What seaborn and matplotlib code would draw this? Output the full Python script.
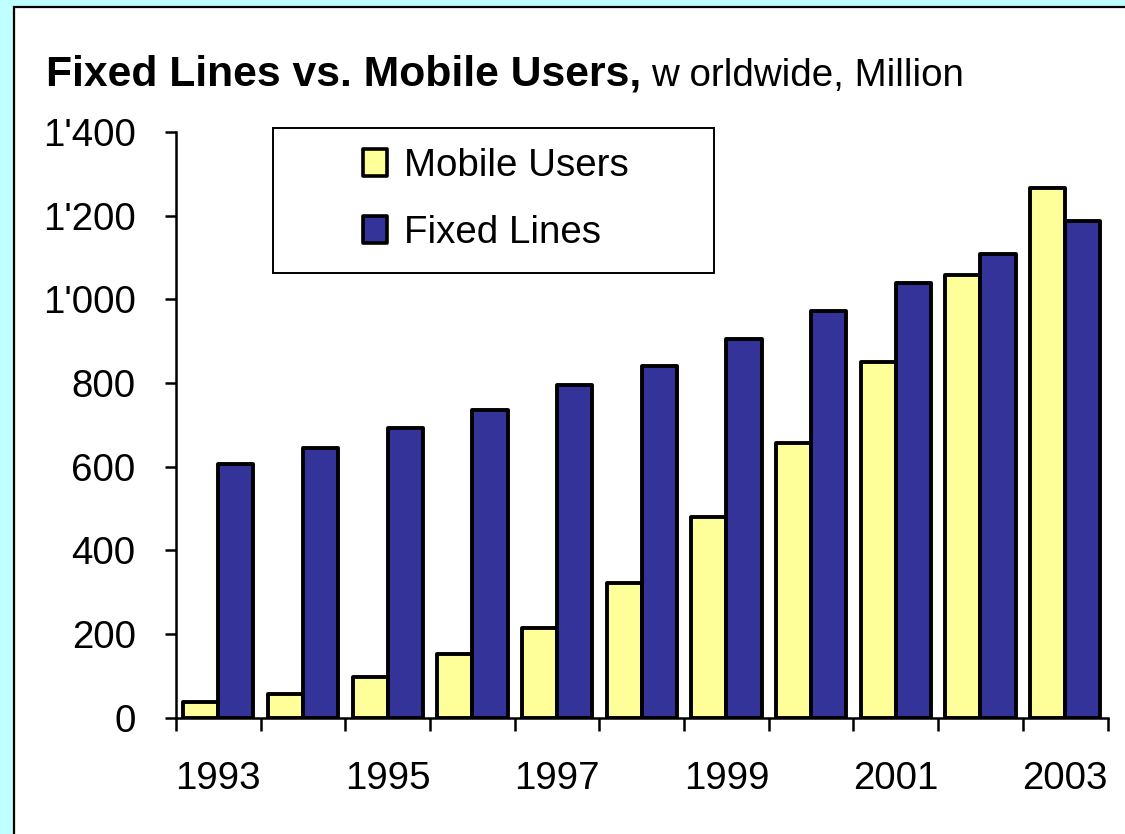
import numpy as np
import pandas as pd
import matplotlib
matplotlib.use("Agg")
import matplotlib.pyplot as plt
from matplotlib.patches import Rectangle
from matplotlib.ticker import FuncFormatter
import seaborn as sns

# values (million)
years = [1993, 1994, 1995, 1996, 1997, 1998, 1999, 2000, 2001, 2002, 2003]
mobile_users = [37, 57, 96, 153, 213, 321, 479, 656, 851, 1057, 1267]
fixed_lines = [607, 645, 693, 735, 794, 841, 905, 971, 1039, 1109, 1186]
series_names = ["Mobile Users", "Fixed Lines"]
year_labels = ["1993", "1995", "1997", "1999", "2001", "2003"]
y_ticks = [0, 200, 400, 600, 800, 1000, 1200, 1400]

YELLOW = "#FFFF99"
BLUE = "#333399"
CYAN = "#C0FFFF"

sns.set_style("white")
plt.rcParams["font.family"] = ["Liberation Sans", "DejaVu Sans"]
plt.rcParams["text.color"] = "black"
plt.rcParams["xtick.color"] = "black"
plt.rcParams["ytick.color"] = "black"

df = pd.DataFrame({
    "year": [str(y) for y in years] * 2,
    "value": mobile_users + fixed_lines,
    "series": [series_names[0]] * len(years) + [series_names[1]] * len(years),
})

W, H = 1125, 834
fig = plt.figure(figsize=(W / 100, H / 100), dpi=100, facecolor=CYAN)

# white panel with black frame
fig.patches.append(Rectangle((13.5 / W, -0.1), 1.2, 1 - 7.5 / H + 0.1,
                             transform=fig.transFigure, facecolor="white",
                             edgecolor="black", linewidth=1.6, zorder=0))
# legend frame
fig.patches.append(Rectangle((273 / W, 1 - 273 / H), (714 - 273) / W, (273 - 128) / H,
                             transform=fig.transFigure, facecolor="white",
                             edgecolor="black", linewidth=1.4, zorder=1))

ax = fig.add_axes([176 / W, 1 - 717.5 / H, (1107.5 - 176) / W, (717.5 - 132) / H])
ax.set_facecolor("none")
ax.set_zorder(5)

sns.barplot(data=df, x="year", y="value", hue="series", palette=[YELLOW, BLUE],
            width=0.83, saturation=1, edgecolor="black", linewidth=2.8, ax=ax)
for p in ax.patches:
    p.set_joinstyle("round")

ax.set_xlim(-0.5, len(years) - 0.5)
ax.set_ylim(0, 1400)
ax.set_xlabel("")
ax.set_ylabel("")

# ticks at category boundaries, labels at every other category centre
ax.set_xticks(np.arange(-0.5, len(years), 1.0))
ax.set_xticklabels([])
ax.set_xticks(np.arange(0, len(years), 2), minor=True)
ax.set_xticklabels(year_labels, minor=True)
ax.tick_params(axis="x", which="major", direction="out", length=9, width=1.8,
               color="black", bottom=True)
ax.tick_params(axis="x", which="minor", length=0, pad=31, labelsize=27.7)

ax.set_yticks(y_ticks)
ax.yaxis.set_major_formatter(FuncFormatter(lambda v, _: f"{int(v):,}".replace(",", "'")))
ax.tick_params(axis="y", direction="out", length=8, width=1.8, color="black",
               left=True, pad=21, labelsize=27.7)

for side in ["top", "right"]:
    ax.spines[side].set_visible(False)
for side in ["left", "bottom"]:
    ax.spines[side].set_color("black")
    ax.spines[side].set_linewidth(1.8)

# legend without frame, frame drawn above as a figure patch
handles, labels = ax.get_legend_handles_labels()
ax.get_legend().remove()
leg = ax.legend(handles, labels, loc="upper left", frameon=False,
                bbox_to_anchor=(363 / W, 1 - 148 / H), bbox_transform=fig.transFigure,
                borderpad=0, borderaxespad=0, fontsize=27.7, handlelength=0.62,
                handleheight=0.68, handletextpad=0.45, labelspacing=0.8)
for h in leg.legend_handles:
    h.set_linewidth(2.6)
    h.set_edgecolor("black")
    h.set_joinstyle("round")

# title: bold part followed by regular part
t1 = fig.text(46 / W, 1 - 86 / H, "Fixed Lines vs. Mobile Users,", fontsize=30.7,
              fontweight="bold", va="baseline", ha="left")
fig.canvas.draw()
bb = t1.get_window_extent(fig.canvas.get_renderer())
fig.text((bb.x1 + 10) / W, 1 - 86 / H, "w orldwide, Million", fontsize=27.7,
         va="baseline", ha="left")

fig.savefig("out.png", dpi=100, facecolor=CYAN)
